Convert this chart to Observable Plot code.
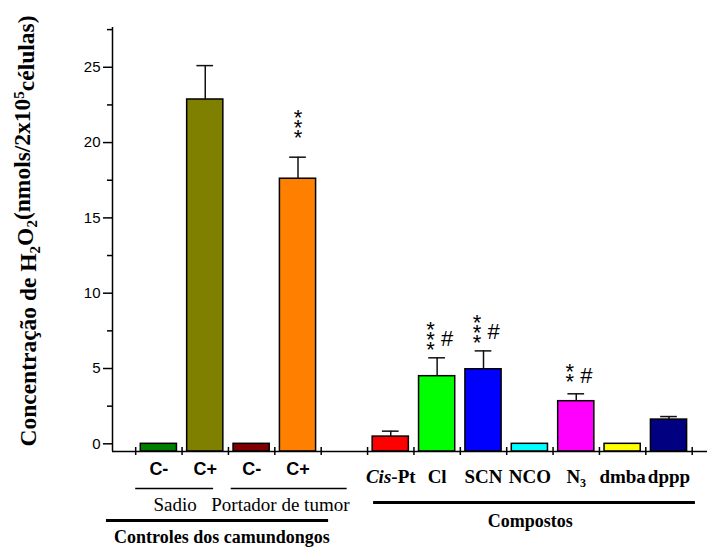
<!DOCTYPE html>
<html><head><meta charset="utf-8">
<script src="https://cdn.jsdelivr.net/npm/d3@7"></script>
<script src="https://cdn.jsdelivr.net/npm/@observablehq/plot@0.6"></script>
<style>body{margin:0;background:#fff} #chart svg{display:block}</style>
</head><body><div id="chart"></div>
<script>
// ---- data ----
const categories = ["C-","C+","C-","C+","","Cis-Pt","Cl","SCN","NCO","N3","dmba","dppp"];
const values     = [0, 22.86, 0, 17.6, null, 0.48, 4.49, 4.95, 0, 2.83, 0, 1.61];
const errTops    = [null, 25.11, null, 19.03, null, 0.84, 5.71, 6.17, null, 3.32, null, 1.81];
const colors     = ["#008000","#808000","#800000","#FF8000",null,"#FF0000","#00FF00","#0000FF","#00FFFF","#FF00FF","#FFFF00","#000080"];
const stars      = ["","","","***","","","***","***","","**","",""];
const hashes     = ["","","","","","","#","#","","#","",""];
const annotY     = [null,null,null,21.06,null,null,7.0,7.5,null,4.55,null,null];
const yTicks     = [0,5,10,15,20,25];
const yMinorTicks= [2.5,7.5,12.5,17.5,22.5,27.5];
const groupLabels= ["Sadio","Portador de tumor","Controles dos camundongos","Compostos"];
const groupFrom  = [0, 2.06, -0.63, 5.13];
const groupTo    = [1.68, 4.56, 4.16, 12.07];
const groupTextX = [0.85, 3.12, 1.86, 8.51];
const yTitle = ["Concentração de H", "2", "O", "2", "(nmols/2x10", "5", "células)"];

// ---- layout ----
const xDomain = [-0.5, 12.33];
const yDomain = [-0.51, 27.64];
const groupLineDy = [37, 37, 69, 51];
const groupLineW  = [1.5, 1.5, 3, 3];
const groupTextDy = [53, 53, 86, 70];
const groupTextFont = [
  {fontWeight: "normal", fontSize: 19},
  {fontWeight: "normal", fontSize: 19},
  {fontWeight: "bold", fontSize: 18},
  {fontWeight: "bold", fontSize: 18}
];
const SANS = "'Liberation Sans', Arial, sans-serif";
const SERIF = "'Liberation Serif', 'Times New Roman', serif";

const idx = d3.range(categories.length);
const bars = idx.filter(i => values[i] != null).map(i => ({i, v: values[i], c: colors[i]}));
const errs = idx.filter(i => errTops[i] != null).map(i => ({i, v: values[i], e: errTops[i]}));
const ann = idx.filter(i => annotY[i] != null).map(i => ({i, s: stars[i].split("").join("\n"), h: hashes[i], y: annotY[i]}));
const groups = groupLabels.map((g, k) => ({k, g, from: groupFrom[k], to: groupTo[k], tx: groupTextX[k]}));

const marks = [
  Plot.rect(bars, {x1: d => d.i + 0.11, x2: d => d.i + 0.89, y1: yDomain[0], y2: "v", fill: d => d.c, stroke: "#000", strokeWidth: 1.5}),
  Plot.ruleX(errs, {x: d => d.i + 0.5, y1: "v", y2: "e", stroke: "#111", strokeWidth: 1.5}),
  Plot.ruleY(errs, {y: "e", x1: d => d.i + 0.5 - 0.18, x2: d => d.i + 0.5 + 0.18, stroke: "#111", strokeWidth: 1.5}),
  // axes
  Plot.ruleX([xDomain[0]], {stroke: "#000", strokeWidth: 1.5}),
  Plot.ruleY([yDomain[0]], {stroke: "#000", strokeWidth: 1.5}),
  Plot.axisY({ticks: yTicks, tickSize: 9, tickPadding: 3, label: null, fontSize: 15, fontFamily: SANS, strokeWidth: 1.5}),
  Plot.axisY({ticks: yMinorTicks, tickSize: 5, tickFormat: () => "", label: null, strokeWidth: 1.5}),
  Plot.axisX({ticks: d3.range(0, 13), tickSize: 4, tickFormat: () => "", label: null, strokeWidth: 1.5}),
  Plot.axisX({ticks: d3.range(0, 13), tickSize: -4, tickFormat: () => "", label: null, strokeWidth: 1.5}),
  // category labels
  Plot.text(idx.filter(i => i < 4), {x: i => i + 0.5, text: i => categories[i], frameAnchor: "bottom", lineAnchor: "middle", dy: 18.2, fontFamily: SANS, fontWeight: "bold", fontSize: 18}),
  Plot.text(idx.filter(i => i > 4), {x: i => i + 0.5, text: i => categories[i], frameAnchor: "bottom", lineAnchor: "middle", dy: 25, fontFamily: SERIF, fontWeight: "bold", fontSize: 19}),
  // annotations: star stacks (shifted left when a hash follows) and hashes
  Plot.text(ann.filter(d => d.h === ""), {x: d => d.i + 0.5, y: "y", text: "s", lineAnchor: "middle", lineHeight: 0.45, dy: 5.6, fontFamily: SANS, fontSize: 22}),
  Plot.text(ann.filter(d => d.h !== ""), {x: d => d.i + 0.5, y: "y", text: "s", lineAnchor: "middle", lineHeight: 0.45, dx: -6.5, dy: 5.6, fontFamily: SANS, fontSize: 22}),
  Plot.text(ann.filter(d => d.h !== ""), {x: d => d.i + 0.5, y: "y", text: "h", lineAnchor: "middle", dx: 10, dy: 1, fontFamily: SANS, fontSize: 22})
];
// group brackets and labels
groups.forEach((gr, k) => {
  marks.push(Plot.ruleY([gr], {y: yDomain[0], x1: "from", x2: "to", dy: groupLineDy[k], stroke: "#000", strokeWidth: groupLineW[k]}));
  marks.push(Plot.text([gr], {x: "tx", text: "g", frameAnchor: "bottom", lineAnchor: "middle", dy: groupTextDy[k], fontFamily: SERIF, ...groupTextFont[k]}));
});

const svg = Plot.plot({
  width: 707, height: 548,
  marginLeft: 112, marginRight: 0, marginTop: 27, marginBottom: 97,
  x: {type: "linear", domain: xDomain},
  y: {domain: yDomain},
  style: {fontFamily: SANS, fontSize: "15px", color: "#000", background: "#fff", overflow: "visible"},
  marks
});

// rich text: subscripts / italics
d3.select(svg).selectAll("text").each(function() {
  const t = this.textContent;
  const sel = d3.select(this);
  if (t === "N3") {
    sel.text("");
    sel.append("tspan").text("N");
    sel.append("tspan").attr("dy", "0.4em").attr("font-size", "12").text("3");
  } else if (t === "Cis-Pt") {
    sel.text("");
    sel.append("tspan").attr("font-style", "italic").text("Cis");
    sel.append("tspan").text("-Pt");
  }
});

// y-axis title
const yt = d3.select(svg).append("text")
  .attr("transform", "translate(35.5,231) rotate(-90)")
  .attr("text-anchor", "middle")
  .attr("font-family", SERIF).attr("font-weight", "bold").attr("font-size", 23.5).attr("fill", "#000");
yt.append("tspan").text(yTitle[0]);
yt.append("tspan").attr("dy", "0.3em").attr("font-size", 15).text(yTitle[1]);
yt.append("tspan").attr("dy", "-0.3em").text(yTitle[2]);
yt.append("tspan").attr("dy", "0.3em").attr("font-size", 15).text(yTitle[3]);
yt.append("tspan").attr("dy", "-0.3em").text(yTitle[4]);
yt.append("tspan").attr("dy", "-0.45em").attr("font-size", 15).text(yTitle[5]);
yt.append("tspan").attr("dy", "0.45em").text(yTitle[6]);

document.getElementById("chart").appendChild(svg);
</script>
</body></html>
